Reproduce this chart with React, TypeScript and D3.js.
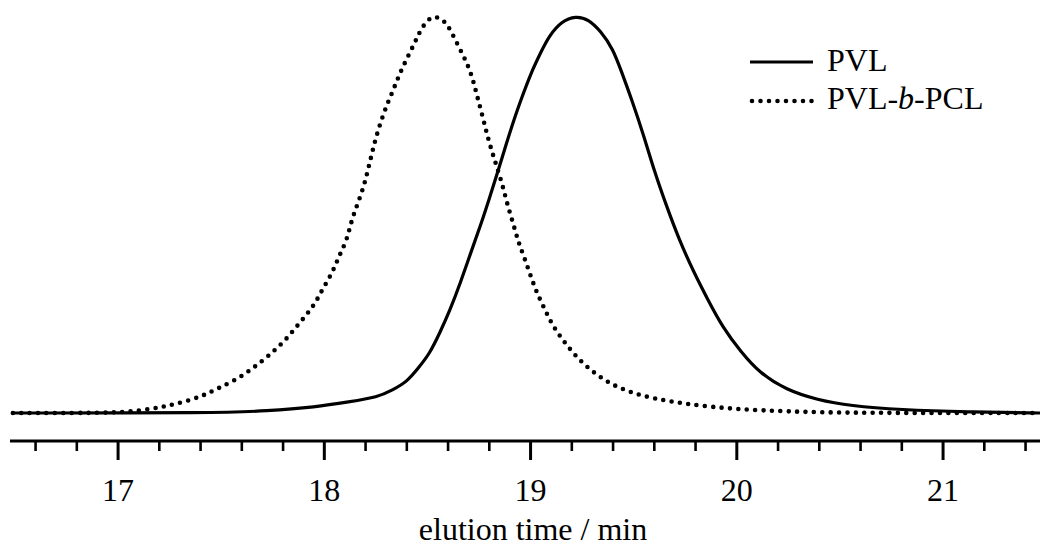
import React from "react";
import * as d3 from "d3";

// elution time (min) and normalized detector response (%)
const pvlTime = [16.49, 17.48, 17.72, 17.96, 18.12, 18.26, 18.33, 18.40, 18.46, 18.51, 18.56, 18.61, 18.66, 18.71, 18.76, 18.80, 18.84, 18.88, 18.92, 18.96, 19.00, 19.05, 19.09, 19.15, 19.22, 19.28, 19.34, 19.40, 19.44, 19.49, 19.55, 19.60, 19.66, 19.72, 19.79, 19.86, 19.93, 20.02, 20.11, 20.24, 20.39, 20.55, 20.79, 21.12, 21.47];
const pvlSignal = [0, 0, 0.5, 1.5, 2.8, 4.0, 5.8, 7.8, 11.6, 14.9, 20.2, 26.0, 32.8, 40.4, 47.6, 54.0, 60.6, 67.4, 74.0, 79.8, 85.4, 90.9, 95.0, 98.7, 100, 99.2, 96.2, 91.7, 86.1, 79.0, 69.7, 60.9, 52.0, 43.7, 35.6, 28.5, 21.7, 15.4, 10.1, 5.8, 3.3, 1.8, 0.8, 0.25, 0];

const blockTime = [16.49, 16.91, 17.04, 17.16, 17.24, 17.32, 17.41, 17.48, 17.57, 17.65, 17.73, 17.81, 17.88, 17.95, 17.99, 18.04, 18.07, 18.11, 18.13, 18.16, 18.19, 18.21, 18.23, 18.25, 18.29, 18.33, 18.36, 18.40, 18.44, 18.46, 18.50, 18.54, 18.58, 18.61, 18.65, 18.69, 18.72, 18.74, 18.77, 18.79, 18.82, 18.86, 18.89, 18.92, 18.94, 18.97, 19.00, 19.03, 19.07, 19.11, 19.17, 19.24, 19.32, 19.40, 19.49, 19.60, 19.74, 19.90, 20.06, 20.31, 20.63, 21.47];
const blockSignal = [0, 0, 0.25, 1.0, 1.8, 2.8, 4.3, 6.1, 8.3, 11.1, 14.4, 18.2, 22.7, 27.0, 31.1, 35.4, 39.4, 43.6, 48.2, 52.5, 56.8, 60.9, 65.2, 69.4, 76.0, 80.8, 84.8, 89.3, 93.4, 95.8, 99.2, 100, 98.9, 96.7, 92.4, 88.4, 84.2, 80.0, 74.2, 69.9, 64.6, 58.3, 52.0, 47.0, 43.2, 39.1, 34.6, 30.3, 26.0, 21.7, 17.4, 13.1, 9.6, 7.0, 5.1, 3.6, 2.4, 1.4, 0.8, 0.25, 0, 0];

const majorTicks = [17, 18, 19, 20, 21];
const minorTicks = [16.6, 16.8, 17.2, 17.4, 17.6, 17.8, 18.2, 18.4, 18.6, 18.8, 19.2, 19.4, 19.6, 19.8, 20.2, 20.4, 20.6, 20.8, 21.2, 21.4];
const seriesNames = ["PVL", "PVL-b-PCL"];

const W = 1040;
const H = 546;
const FONT = "Liberation Serif, Times New Roman, Times, DejaVu Serif, serif";

export default function App() {
  const x = d3.scaleLinear().domain([16.476, 21.47]).range([10, 1040]);
  const y = d3.scaleLinear().domain([0, 100]).range([413, 16]);
  const axisY = 441;

  const line = d3
    .line<[number, number]>()
    .x((d) => x(d[0]))
    .y((d) => y(d[1]))
    .curve(d3.curveBasis);

  const pvl = pvlTime.map((t, i) => [t, pvlSignal[i]] as [number, number]);
  const block = blockTime.map((t, i) => [t, blockSignal[i]] as [number, number]);
  const txt = { fontFamily: FONT, fontSize: 32, fill: "#000" } as React.CSSProperties;

  return (
    <svg
      width={W}
      height={H}
      viewBox={`0 0 ${W} ${H}`}
      style={{ position: "absolute", left: 0, top: 0, background: "#fff" }}
    >
      <rect x={0} y={0} width={W} height={H} fill="#fff" />
      {/* curves */}
      <path d={line(block) || ""} fill="none" stroke="#000" strokeWidth={4.6} strokeLinecap="round" strokeDasharray="0 8.4" />
      <path d={line(pvl) || ""} fill="none" stroke="#000" strokeWidth={3.2} strokeLinejoin="round" />

      {/* axis */}
      <line x1={x.range()[0]} x2={x.range()[1]} y1={axisY} y2={axisY} stroke="#000" strokeWidth={3} />
      {minorTicks.map((t) => (
        <line key={"m" + t} x1={x(t)} x2={x(t)} y1={axisY} y2={axisY + 10} stroke="#000" strokeWidth={2.6} />
      ))}
      {majorTicks.map((t) => (
        <g key={"M" + t}>
          <line x1={x(t)} x2={x(t)} y1={axisY} y2={axisY + 19} stroke="#000" strokeWidth={3} />
          <text x={x(t)} y={501} textAnchor="middle" style={txt}>
            {t}
          </text>
        </g>
      ))}
      <text x={533} y={540} textAnchor="middle" style={txt}>
        elution time / min
      </text>

      {/* legend */}
      <line x1={750} x2={813} y1={62} y2={62} stroke="#000" strokeWidth={3.2} />
      <text x={827} y={71} style={txt}>
        {seriesNames[0]}
      </text>
      <line x1={752} x2={812} y1={101} y2={101} stroke="#000" strokeWidth={4.6} strokeLinecap="round" strokeDasharray="0 8.5" />
      <text x={827} y={109} style={txt}>
        PVL-<tspan fontStyle="italic">b</tspan>-PCL
      </text>
    </svg>
  );
}
